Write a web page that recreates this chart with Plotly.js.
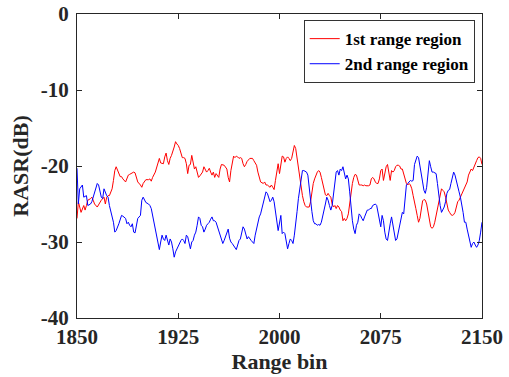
<!DOCTYPE html>
<html>
<head>
<meta charset="utf-8">
<script src="https://cdn.plot.ly/plotly-3.0.1.min.js"></script>
<style>html,body{margin:0;padding:0;background:#fff;}#chart{width:509px;height:377px;}</style>
</head>
<body>
<div id="chart"></div>
<script>
// Range bins and RASR (dB) for the 1st range region (red)
const redBins = [1850,1851,1852,1853,1855,1856,1857,1858,1860,1861,1862,1863,1865,1866,1867,1868,1870,1871,1872,1873,1874,1876,1877,1878,1879,1881,1882,1883,1884,1886,1887,1888,1889,1890,1892,1893,1894,1895,1897,1898,1899,
1900,1901,1903,1904,1905,1906,1908,1909,1910,1911,1912,1914,1915,1916,1917,1918,1919,1920,1922,1923,1924,1925,1926,1927,1928,1929,1930,1931,1932,1933,1934,1935,1936,1937,1938,1939,1940,1941,1942,1943,1944,1945,1946,1947,1948,1949,
1950,1951,1952,1953,1954,1955,1956,1957,1959,1960,1961,1962,1963,1964,1965,1966,1967,1968,1969,1970,1971,1972,1973,1974,1975,1976,1978,1979,1980,1981,1983,1984,1985,1986,1988,1989,1990,1991,1993,1994,1995,1996,1997,1998,1999,2000,2001,
2002,2003,2004,2005,2006,2007,2008,2009,2010,2011,2012,2013,2014,2015,2016,2017,2018,2019,2020,2021,2022,2023,2024,2025,2026,2027,2028,2029,2030,2031,2032,2033,2034,2035,2036,2037,2038,2039,2040,2041,2042,2043,2044,2045,2046,2047,2048,2049,
2050,2051,2052,2053,2054,2055,2056,2057,2058,2059,2060,2061,2062,2063,2064,2065,2066,2067,2068,2069,2070,2071,2072,2073,2074,2075,2076,2077,2078,2079,2080,2081,2082,2083,2084,2085,2086,2087,2088,2089,2090,2091,2092,2093,2094,2095,2096,2097,2098,2099,
2100,2101,2102,2103,2104,2105,2106,2107,2108,2109,2110,2111,2112,2113,2114,2115,2116,2117,2118,2119,2120,2121,2122,2123,2124,2125,2126,2127,2128,2129,2130,2131,2132,2133,2134,2135,2136,2137,2138,2139,2140,2141,2142,2143,2144,2145,2146,2147,2148,2149,2150];
const redRASR = [-26.9,-24.7,-25.4,-26.1,-25.2,-25.8,-25.2,-24.5,-24.3,-24.1,-24.5,-25.0,-25.4,-25.1,-24.7,-24.5,-24.1,-25.0,-24.1,-23.9,-23.9,-23.0,-21.9,-20.6,-20.1,-21.0,-21.4,-21.4,-21.7,-22.1,-21.7,-21.2,-21.1,-21.0,-20.8,-20.9,-21.4,-22.1,-22.5,-22.8,-22.3,
-22.1,-21.8,-21.8,-21.7,-22.0,-21.5,-20.8,-20.1,-19.7,-19.0,-19.6,-19.7,-18.8,-18.3,-19.3,-19.8,-19.0,-18.6,-17.5,-16.8,-17.1,-17.3,-17.7,-18.2,-18.9,-18.9,-19.0,-19.7,-21.0,-19.9,-19.8,-18.6,-19.6,-20.4,-20.1,-20.8,-21.5,-21.3,-21.0,-20.8,-20.1,-20.4,-20.8,-20.6,-20.3,-20.8,
-21.2,-20.8,-21.5,-21.0,-21.2,-21.5,-20.4,-19.8,-19.9,-20.1,-20.4,-21.5,-22.1,-20.6,-19.5,-18.7,-18.9,-18.7,-18.8,-19.0,-18.9,-19.0,-19.7,-20.1,-19.8,-19.4,-19.0,-19.0,-19.0,-19.3,-19.9,-20.8,-21.5,-22.1,-22.3,-22.1,-22.5,-22.5,-22.8,-22.5,-22.8,-23.1,-21.9,-20.4,-19.7,-21.0,-19.9,
-18.7,-18.8,-19.5,-19.0,-18.8,-19.0,-19.3,-19.0,-18.2,-17.3,-17.7,-19.0,-20.1,-21.7,-23.0,-23.9,-24.7,-25.2,-25.4,-25.4,-25.4,-24.7,-23.4,-22.3,-21.7,-21.2,-20.8,-20.6,-20.8,-21.5,-22.3,-23.4,-23.8,-23.9,-23.6,-23.9,-24.1,-25.0,-25.4,-25.2,-25.6,-25.2,-25.4,-25.8,-26.0,-27.2,-26.9,-27.2,
-26.9,-26.3,-24.7,-23.4,-22.3,-21.5,-21.1,-21.2,-22.1,-22.5,-22.5,-22.5,-22.6,-22.5,-22.6,-22.6,-22.6,-22.5,-21.7,-21.5,-21.7,-22.1,-22.3,-22.3,-21.7,-20.6,-20.4,-21.9,-21.0,-20.1,-19.8,-20.8,-21.9,-20.6,-20.8,-20.6,-20.1,-19.9,-19.9,-20.0,-20.4,-20.4,-21.0,-21.7,-22.3,-22.5,-22.3,-22.5,-23.0,-23.9,
-25.0,-25.6,-26.5,-27.4,-26.9,-25.6,-24.6,-24.4,-24.5,-25.0,-26.1,-27.4,-28.0,-28.2,-28.0,-27.4,-26.5,-25.4,-24.3,-23.4,-23.0,-23.2,-23.4,-24.1,-25.2,-25.8,-26.1,-26.4,-26.5,-26.4,-26.1,-25.4,-24.7,-24.5,-24.1,-23.6,-23.2,-22.8,-22.5,-22.1,-21.2,-20.8,-20.4,-20.6,-20.1,-19.7,-19.3,-18.9,-18.8,-19.0,-19.8];

// Range bins and RASR (dB) for the 2nd range region (blue)
const blueBins = [1850,1851,1852,1854,1855,1857,1858,1860,1861,1862,1864,1865,1866,1868,1869,1870,1872,1873,1874,1875,1877,1878,1879,1881,1883,1884,1886,1887,1888,1889,1890,1891,1892,1893,1894,1895,1897,1898,
1899,1900,1901,1903,1904,1905,1906,1907,1908,1909,1910,1911,1912,1913,1914,1915,1916,1917,1918,1919,1920,1921,1922,1923,1924,1925,1926,1927,1928,1929,1930,1931,1932,1933,1934,1935,1936,1937,1938,1939,1940,1941,1942,1943,1944,1945,1946,1947,1948,
1949,1950,1951,1952,1953,1954,1955,1957,1958,1959,1960,1961,1962,1963,1964,1965,1966,1968,1969,1970,1971,1972,1973,1974,1975,1976,1977,1978,1979,1980,1981,1982,1983,1984,1985,1986,1987,1988,1989,1990,1991,1992,1993,1994,1995,1996,1997,1998,1999,
2000,2001,2002,2003,2004,2005,2006,2007,2008,2009,2010,2011,2012,2013,2014,2015,2016,2017,2018,2019,2020,2021,2022,2023,2024,2025,2026,2027,2028,2029,2030,2031,2032,2033,2034,2035,2036,2037,2038,2039,2040,2041,2042,2043,2044,2045,2046,2047,2048,2049,
2050,2051,2052,2053,2054,2055,2056,2057,2058,2059,2060,2061,2062,2063,2064,2065,2066,2067,2068,2069,2070,2071,2072,2073,2074,2075,2076,2077,2078,2079,2080,2081,2082,2083,2084,2085,2086,2087,2088,2089,2090,2091,2092,2093,2094,2095,2096,2097,2098,2099,
2100,2101,2102,2103,2104,2105,2106,2107,2108,2109,2110,2111,2112,2113,2114,2115,2116,2117,2118,2119,2120,2121,2122,2123,2124,2125,2126,2127,2128,2129,2130,2131,2132,2133,2134,2135,2136,2137,2138,2139,2140,2141,2142,2143,2144,2145,2146,2147,2148,2149,2150];
const blueRASR = [-20.3,-25.0,-23.0,-22.5,-24.1,-23.9,-25.2,-25.0,-24.7,-24.1,-23.2,-22.3,-22.5,-24.1,-24.3,-23.0,-23.9,-24.1,-25.2,-26.0,-27.4,-28.7,-28.5,-27.6,-26.5,-26.6,-26.9,-27.6,-27.4,-27.8,-28.0,-27.6,-28.7,-28.8,-27.8,-26.9,-26.5,-24.5,
-24.1,-24.5,-24.8,-25.0,-25.2,-25.6,-26.5,-27.4,-28.3,-29.1,-30.0,-31.0,-30.0,-29.1,-29.6,-29.8,-29.1,-29.8,-30.4,-29.6,-30.0,-30.9,-32.0,-31.3,-30.9,-30.4,-30.0,-29.8,-29.6,-29.8,-30.2,-29.1,-29.3,-30.4,-30.9,-30.0,-29.8,-29.1,-28.7,-27.8,-26.7,-26.9,-27.8,-28.0,-28.7,-28.3,-27.8,-27.6,-27.4,
-27.0,-26.7,-27.2,-27.2,-27.4,-28.0,-28.7,-29.6,-30.2,-29.8,-29.3,-28.7,-28.3,-29.5,-30.0,-30.2,-30.5,-31.0,-30.4,-29.8,-29.6,-28.7,-28.0,-28.3,-29.1,-29.6,-29.3,-29.6,-29.8,-30.0,-30.2,-29.1,-28.3,-27.2,-26.7,-26.3,-25.6,-25.2,-24.5,-23.4,-23.6,-24.1,-24.7,-24.5,-24.1,-24.7,-25.8,-27.4,-28.5,
-27.5,-26.5,-28.9,-28.7,-28.9,-30.0,-30.9,-30.2,-29.6,-29.8,-30.2,-29.1,-27.8,-26.0,-24.3,-22.8,-21.9,-20.6,-20.6,-20.7,-20.8,-21.2,-23.0,-24.5,-26.0,-27.2,-27.6,-27.6,-27.8,-27.7,-27.8,-27.4,-26.7,-26.0,-25.0,-24.1,-24.5,-25.2,-25.8,-25.2,-23.9,-21.9,-20.8,-20.6,-21.2,-20.4,-20.6,-20.1,-20.8,-21.7,
-21.2,-21.7,-23.4,-25.6,-27.2,-28.3,-28.9,-27.8,-27.4,-26.3,-26.5,-26.9,-27.2,-26.7,-26.3,-25.8,-25.8,-25.6,-25.6,-25.2,-25.1,-25.0,-25.2,-26.1,-27.4,-28.0,-26.5,-27.2,-28.7,-29.6,-29.8,-28.3,-27.6,-26.7,-27.6,-28.7,-29.8,-29.6,-28.7,-27.8,-26.9,-26.1,-26.3,-24.3,-22.5,-22.3,-22.1,-21.9,-22.0,-21.9,
-19.8,-19.1,-18.7,-18.9,-19.8,-20.8,-22.1,-23.2,-23.6,-22.8,-20.8,-19.3,-20.1,-20.8,-20.8,-20.9,-21.0,-22.3,-23.9,-25.2,-26.1,-25.8,-25.4,-24.7,-23.6,-23.2,-23.1,-22.3,-21.5,-20.8,-21.2,-22.1,-22.8,-23.4,-24.1,-25.0,-26.1,-27.4,-27.4,-28.3,-29.1,-30.0,-30.7,-30.2,-30.0,-30.4,-30.7,-30.4,-29.8,-28.7,-27.4];

const seriesNames = ["1st range region", "2nd range region"];
const xTickVals = [1850, 1925, 2000, 2075, 2150];
const xTickText = ["1850", "1925", "2000", "2075", "2150"];
const yTickVals = [0, -10, -20, -30, -40];
const yTickText = ["0", "-10", "-20", "-30", "-40"];
const xTitle = "Range bin";
const yTitle = "RASR(dB)";

const FONT = "Liberation Serif";
const AXC = "#262626";

const traces = [
  {x: redBins, y: redRASR, name: seriesNames[0], type: "scatter", mode: "lines",
   line: {color: "#ff0000", width: 1}},
  {x: blueBins, y: blueRASR, name: seriesNames[1], type: "scatter", mode: "lines",
   line: {color: "#0000ff", width: 1}}
];

const axisCommon = {
  showgrid: false, zeroline: false, showline: true, linecolor: AXC, linewidth: 1,
  mirror: "ticks", ticks: "inside", ticklen: 5, tickcolor: AXC, tickwidth: 1,
  tickfont: {family: FONT, size: 21, color: AXC, weight: "bold"}
};

const layout = {
  width: 509, height: 377,
  margin: {l: 77, r: 27, t: 14, b: 59},
  paper_bgcolor: "#ffffff", plot_bgcolor: "#ffffff",
  font: {family: FONT, color: AXC},
  showlegend: true,
  legend: {
    x: 0.982, y: 0.98, xanchor: "right", yanchor: "top",
    bgcolor: "#ffffff", bordercolor: "#333333", borderwidth: 1,
    font: {family: FONT, size: 17, color: "#000000", weight: "bold"},
    tracegroupgap: 0, itemwidth: 30
  },
  xaxis: Object.assign({}, axisCommon, {
    range: [1850, 2150], tickmode: "array", tickvals: xTickVals, ticktext: xTickText,
    ticklabelstandoff: 0,
    title: {text: xTitle, font: {family: FONT, size: 22, color: AXC, weight: "bold"}, standoff: 0}
  }),
  yaxis: Object.assign({}, axisCommon, {
    range: [-40, 0], tickmode: "array", tickvals: yTickVals, ticktext: yTickText,
    ticklabelstandoff: 3,
    title: {text: yTitle, font: {family: FONT, size: 22, color: AXC, weight: "bold"}, standoff: 6}
  })
};

Plotly.newPlot("chart", traces, layout, {staticPlot: true, displayModeBar: false});
</script>
</body>
</html>
